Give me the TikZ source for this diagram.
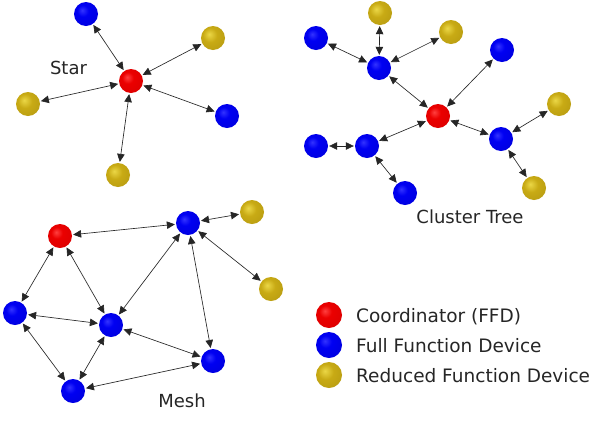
\documentclass[tikz,border=0pt]{standalone}
\usepackage{fontspec}
\setmainfont{DejaVu Sans}
\usetikzlibrary{arrows.meta}
\pgfdeclareradialshading{redball}{\pgfpoint{-8bp}{8bp}}{color(0bp)=(red!75!white); color(12bp)=(red!92!black); color(40bp)=(red!85!black); color(52bp)=(red!60!black); color(70bp)=(red!50!black)}
\pgfdeclareradialshading{blueball}{\pgfpoint{-8bp}{8bp}}{color(0bp)=(blue!80!white); color(12bp)=(blue!95!black); color(40bp)=(blue!85!black); color(52bp)=(blue!60!black); color(70bp)=(blue!50!black)}
\definecolor{goldA}{RGB}{235,215,70}
\definecolor{goldB}{RGB}{200,170,20}
\definecolor{goldC}{RGB}{130,105,0}
\pgfdeclareradialshading{goldball}{\pgfpoint{-8bp}{8bp}}{color(0bp)=(goldA); color(15bp)=(goldB); color(40bp)=(goldB!90!black); color(52bp)=(goldC); color(70bp)=(goldC)}
\begin{document}
\begin{tikzpicture}[x=1pt,y=-1pt,
  dev/.style={circle,inner sep=0pt,minimum size=24pt,shade},
  coord/.style={dev,shading=redball},
  ffd/.style={dev,shading=blueball},
  rfd/.style={dev,shading=goldball},
  link/.style={{Triangle[length=8pt,width=7.5pt]}-{Triangle[length=8pt,width=7.5pt]},line width=0.65pt,black!85,shorten <=1pt,shorten >=1pt},
  lbl/.style={font=\fontsize{18}{20}\selectfont,text=black!85,inner sep=0pt,anchor=base},
  leg/.style={font=\fontsize{18.5}{20}\selectfont,text=black!85,inner sep=0pt,anchor=base west}]
\useasboundingbox (0,0) rectangle (600,421);
\fill[white] (0,0) rectangle (600,421);
% Star
\node[coord] (sR) at (131,81) {};
\node[ffd] (sBT) at (86,14) {};
\node[rfd] (sGTR) at (213,38) {};
\node[rfd] (sGL) at (28,104) {};
\node[ffd] (sBR) at (227,116) {};
\node[rfd] (sGB) at (118,175) {};
\foreach \n in {sBT,sGTR,sGL,sBR,sGB} \draw[link] (sR) -- (\n);
\node[lbl] (tStar) at (68.5,74) {Star};
% Cluster tree
\node[coord] (cR) at (438,116) {};
\node[ffd] (cH1) at (379,68) {};
\node[rfd] (cG1) at (380,13) {};
\node[ffd] (cB1) at (316,38) {};
\node[rfd] (cG2) at (451,32) {};
\node[ffd] (cB2) at (502,50) {};
\node[ffd] (cH3) at (501,139) {};
\node[rfd] (cG3) at (559,104) {};
\node[rfd] (cG4) at (534,188) {};
\node[ffd] (cH2) at (367,146) {};
\node[ffd] (cB3) at (316,146) {};
\node[ffd] (cB4) at (405,193) {};
\foreach \a/\b in {cR/cH1,cR/cB2,cR/cH3,cR/cH2,cH1/cG1,cH1/cB1,cH1/cG2,cH3/cG3,cH3/cG4,cH2/cB3,cH2/cB4}
  \draw[link] (\a) -- (\b);
\node[lbl] (tTree) at (470,223) {Cluster Tree};
% Mesh
\node[coord] (mR) at (60,236) {};
\node[ffd] (mB1) at (188,223) {};
\node[rfd] (mG1) at (252,212) {};
\node[rfd] (mG2) at (271,289) {};
\node[ffd] (mB2) at (15,313) {};
\node[ffd] (mB3) at (111,325) {};
\node[ffd] (mB4) at (213,361) {};
\node[ffd] (mB5) at (73,391) {};
\foreach \a/\b in {mR/mB1,mR/mB2,mR/mB3,mB1/mG1,mB1/mG2,mB1/mB3,mB1/mB4,mB2/mB3,mB2/mB5,mB3/mB5,mB3/mB4,mB5/mB4}
  \draw[link] (\a) -- (\b);
\node[lbl] (tMesh) at (182,407) {Mesh};
% Legend
\node[coord,minimum size=26pt] (lR) at (329,315) {};
\node[ffd,minimum size=26pt] (lB) at (329,345) {};
\node[rfd,minimum size=26pt] (lG) at (329,375) {};
\node[leg] (tR) at (356,322) {Coordinator (FFD)};
\node[leg] (tB) at (356,352) {Full Function Device};
\node[leg] (tG) at (356,382) {Reduced Function Device};
\end{tikzpicture}
\end{document}
